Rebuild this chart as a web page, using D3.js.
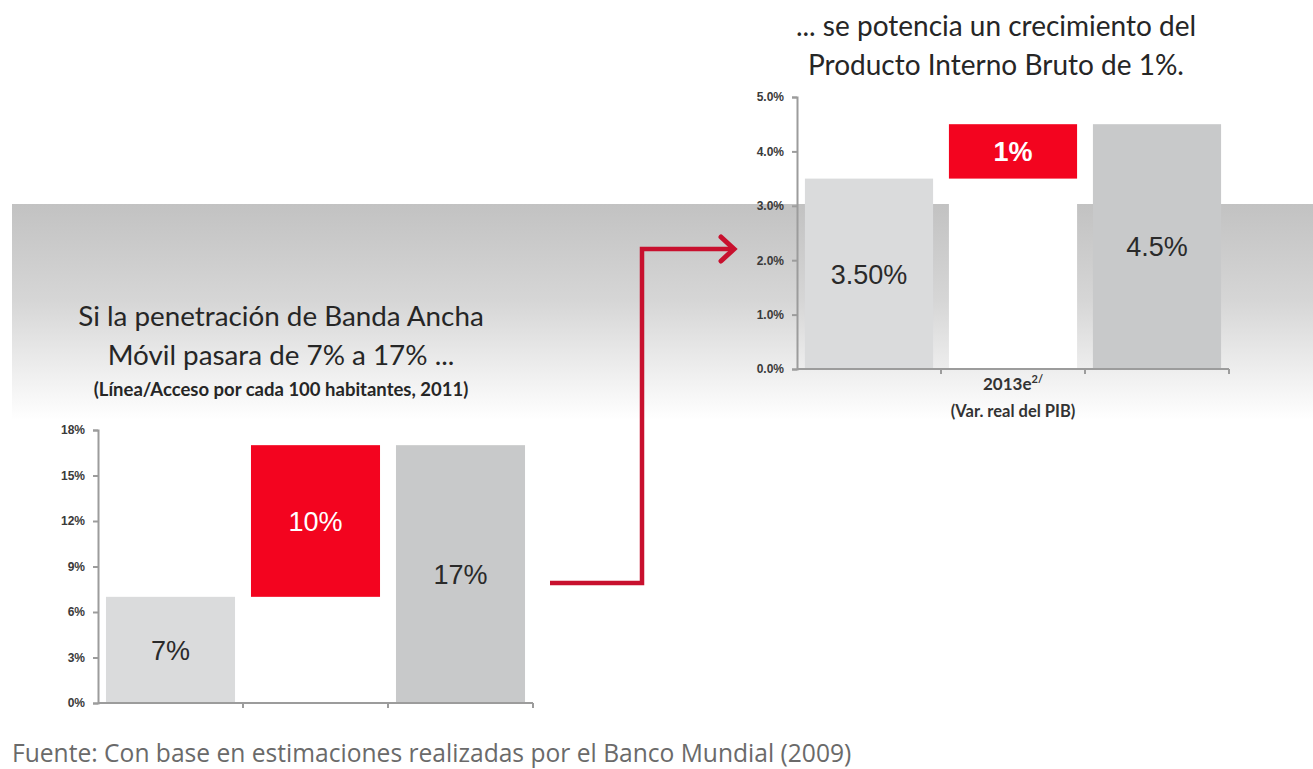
<!DOCTYPE html>
<html>
<head>
<meta charset="utf-8">
<script src="https://cdn.jsdelivr.net/npm/d3@7"></script>
<style>
  body { margin: 0; background: #fff; }
  svg { display: block; }
</style>
</head>
<body>
<svg id="chart" width="1313" height="769"></svg>
<script>
// left chart: mobile broadband penetration (per 100 inhabitants)
const leftCats = ["2011", "incremento", "meta"];
const leftBase = [0, 7, 0];
const leftValues = [7, 10, 17];
const leftLabels = ["7%", "10%", "17%"];
const leftTicks = [0, 3, 6, 9, 12, 15, 18];

// right chart: real GDP growth
const rightCats = ["base", "incremento", "total"];
const rightBase = [0, 3.5, 0];
const rightValues = [3.5, 1, 4.5];
const rightLabels = ["3.50%", "1%", "4.5%"];
const rightTicks = [0, 1, 2, 3, 4, 5];

const barColors = ["#dadbdc", "#f3041f", "#c8c9ca"];
const labelColors = ["#2a2a2a", "#ffffff", "#2a2a2a"];

const svg = d3.select("#chart");

// grey band behind everything
const defs = svg.append("defs");
const grad = defs.append("linearGradient")
  .attr("id", "band")
  .attr("x1", 0).attr("y1", 0).attr("x2", 0).attr("y2", 1);
grad.append("stop").attr("offset", "0%").attr("stop-color", "#c2c2c2");
grad.append("stop").attr("offset", "45%").attr("stop-color", "#d6d6d6");
grad.append("stop").attr("offset", "100%").attr("stop-color", "#ffffff");

svg.append("rect")
  .attr("x", 12).attr("y", 204)
  .attr("width", 1301).attr("height", 216)
  .attr("fill", "url(#band)");

function drawWaterfall(opts) {
  const g = svg.append("g");
  const x = d3.scaleBand()
    .domain(opts.cats)
    .range(opts.xRange)
    .paddingInner(0.11)
    .paddingOuter(0.055);
  const y = d3.scaleLinear()
    .domain(opts.yDomain)
    .range(opts.yRange);

  const rows = opts.cats.map((c, i) => ({
    cat: c, base: opts.base[i], value: opts.values[i], label: opts.labels[i], i: i
  }));

  // white filler under the floating bar
  g.selectAll(".filler")
    .data(rows.filter(d => d.base > 0))
    .enter().append("rect")
    .attr("class", "filler")
    .attr("x", d => x(d.cat))
    .attr("width", x.bandwidth())
    .attr("y", d => y(d.base))
    .attr("height", d => y(0) - y(d.base))
    .attr("fill", "#ffffff");

  g.selectAll(".bar")
    .data(rows)
    .enter().append("rect")
    .attr("class", "bar")
    .attr("x", d => x(d.cat))
    .attr("width", x.bandwidth())
    .attr("y", d => y(d.base + d.value))
    .attr("height", d => y(d.base) - y(d.base + d.value))
    .attr("fill", d => barColors[d.i]);

  g.selectAll(".val")
    .data(rows)
    .enter().append("text")
    .attr("class", "val")
    .attr("x", d => x(d.cat) + x.bandwidth() / 2)
    .attr("y", d => (y(d.base) + y(d.base + d.value)) / 2)
    .attr("dy", "0.36em")
    .attr("text-anchor", "middle")
    .attr("font-family", "Liberation Sans, Arial, sans-serif")
    .attr("font-size", 27)
    .attr("font-weight", d => (d.i === 1 && opts.midBold) ? "bold" : "normal")
    .attr("fill", d => labelColors[d.i])
    .text(d => d.label);

  // y axis
  const yAxis = g.append("g")
    .attr("transform", `translate(${opts.xRange[0]},0)`)
    .call(d3.axisLeft(y).tickValues(opts.ticks).tickFormat(opts.fmt).tickSize(5).tickPadding(8));
  yAxis.selectAll("path, line").attr("stroke", "#9c9c9c").attr("stroke-width", 2);
  yAxis.selectAll("text")
    .attr("font-family", "Liberation Sans, Arial, sans-serif")
    .attr("font-size", 12)
    .attr("font-weight", "bold")
    .attr("fill", "#3a3a3a");

  // x axis with ticks on the band edges
  const y0 = y(0);
  const step = x.step();
  const edges = d3.range(opts.cats.length + 1).map(k => opts.xRange[0] + k * step);
  g.append("line")
    .attr("x1", opts.xRange[0]).attr("x2", opts.xRange[1])
    .attr("y1", y0).attr("y2", y0)
    .attr("stroke", "#9c9c9c").attr("stroke-width", 2);
  g.selectAll(".xtick")
    .data(edges.slice(1))
    .enter().append("line")
    .attr("class", "xtick")
    .attr("x1", d => d).attr("x2", d => d)
    .attr("y1", y0).attr("y2", y0 + 5)
    .attr("stroke", "#9c9c9c").attr("stroke-width", 2);

  return { x, y, g };
}

drawWaterfall({
  cats: leftCats, base: leftBase, values: leftValues, labels: leftLabels,
  ticks: leftTicks, fmt: d => d + "%", midBold: false,
  xRange: [98, 533], yDomain: [0, 18], yRange: [703, 430]
});

const right = drawWaterfall({
  cats: rightCats, base: rightBase, values: rightValues, labels: rightLabels,
  ticks: rightTicks, fmt: d => d.toFixed(1) + "%", midBold: true,
  xRange: [797, 1229], yDomain: [0, 5], yRange: [369, 97]
});

// category label under the right chart
const catX = right.x(rightCats[1]) + right.x.bandwidth() / 2;
const cat = svg.append("text")
  .attr("x", catX).attr("y", 390)
  .attr("text-anchor", "middle")
  .attr("font-family", "Lato, sans-serif")
  .attr("font-weight", "bold")
  .attr("font-size", 17)
  .attr("fill", "#333");
cat.append("tspan").text("2013e");
cat.append("tspan").attr("dy", -7).attr("font-size", 11).text("2/");
svg.append("text")
  .attr("x", catX).attr("y", 417)
  .attr("text-anchor", "middle")
  .attr("font-family", "Lato, sans-serif")
  .attr("font-weight", "bold")
  .attr("font-size", 16.5)
  .attr("fill", "#333")
  .text("(Var. real del PIB)");

// titles
const titleFont = "Lato, sans-serif";
function title(txt, x, y, size, weight) {
  svg.append("text")
    .attr("x", x).attr("y", y)
    .attr("text-anchor", "middle")
    .attr("font-family", titleFont)
    .attr("font-size", size)
    .attr("font-weight", weight || "normal")
    .attr("fill", "#262626")
    .text(txt);
}
title("Si la penetración de Banda Ancha", 281, 326, 27.8);
title("Móvil pasara de 7% a 17% ...", 281, 365, 27.8);
title("(Línea/Acceso por cada 100 habitantes, 2011)", 281, 396, 18.5, "bold");
title("... se potencia un crecimiento del", 996, 36, 28);
title("Producto Interno Bruto de 1%.", 996, 75, 28);

// connector arrow
svg.append("path")
  .attr("d", "M550,583 H642 V249 H733")
  .attr("fill", "none")
  .attr("stroke", "#c8102e")
  .attr("stroke-width", 4.5);
svg.append("path")
  .attr("d", "M721,237 L734,249 L721,261")
  .attr("fill", "none")
  .attr("stroke", "#c8102e")
  .attr("stroke-width", 5)
  .attr("stroke-linecap", "round");

// source
svg.append("text")
  .attr("x", 12).attr("y", 762)
  .attr("font-family", "Open Sans, sans-serif")
  .attr("font-size", 24.6)
  .attr("fill", "#6a6a6a")
  .text("Fuente: Con base en estimaciones realizadas por el Banco Mundial (2009)");
</script>
</body>
</html>
